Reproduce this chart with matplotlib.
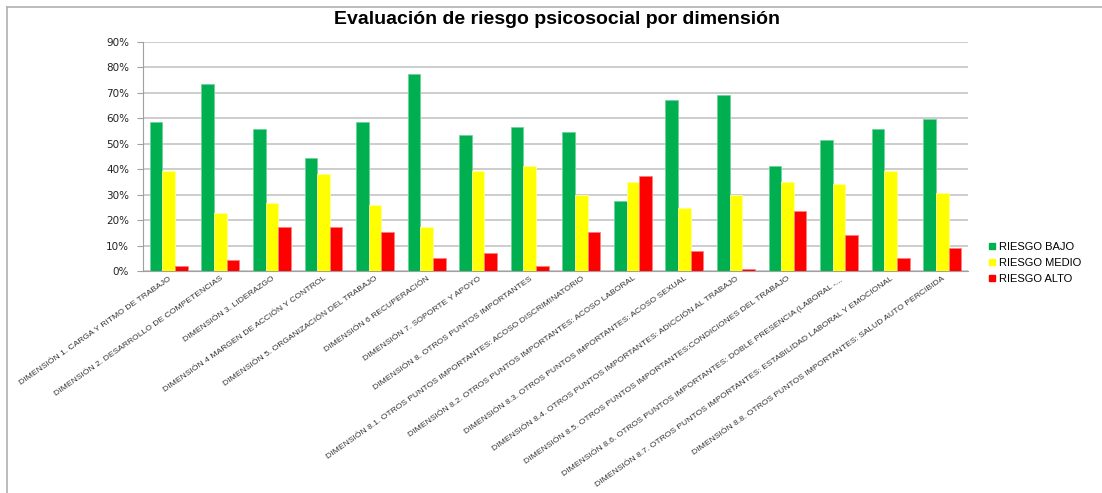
import matplotlib
matplotlib.use("Agg")
import matplotlib.pyplot as plt
import numpy as np
from matplotlib.lines import Line2D

categories = [
    "DIMENSIÓN 1. CARGA Y RITMO DE TRABAJO",
    "DIMENSIÓN 2. DESARROLLO DE COMPETENCIAS",
    "DIMENSIÓN 3. LIDERAZGO",
    "DIMENSIÓN 4 MARGEN DE ACCIÓN Y CONTROL",
    "DIMENSIÓN 5. ORGANIZACIÓN DEL TRABAJO",
    "DIMENSIÓN 6 RECUPERACIÓN",
    "DIMENSIÓN 7. SOPORTE Y APOYO",
    "DIMENSIÓN 8. OTROS PUNTOS IMPORTANTES",
    "DIMENSIÓN 8.1. OTROS PUNTOS IMPORTANTES: ACOSO DISCRIMINATORIO",
    "DIMENSIÓN 8.2. OTROS PUNTOS IMPORTANTES: ACOSO LABORAL",
    "DIMENSIÓN 8.3. OTROS PUNTOS IMPORTANTES: ACOSO SEXUAL",
    "DIMENSIÓN 8.4. OTROS PUNTOS IMPORTANTES: ADICCIÓN AL TRABAJO",
    "DIMENSIÓN 8.5. OTROS PUNTOS IMPORTANTES:CONDICIONES DEL TRABAJO",
    "DIMENSIÓN 8.6. OTROS PUNTOS IMPORTANTES: DOBLE PRESENCIA (LABORAL -...",
    "DIMENSIÓN 8.7. OTROS PUNTOS IMPORTANTES: ESTABILIDAD LABORAL Y EMOCIONAL",
    "DIMENSIÓN 8.8. OTROS PUNTOS IMPORTANTES: SALUD AUTO PERCIBIDA",
]
riesgo_bajo = [58.7, 73.6, 55.8, 44.4, 58.7, 77.5, 53.6, 56.6, 54.5, 27.7, 67.1, 69.3, 41.4, 51.5, 55.8, 59.8]
riesgo_medio = [39.2, 22.7, 26.7, 38.1, 25.8, 17.3, 39.2, 41.4, 29.8, 35.0, 24.7, 29.8, 35.0, 34.2, 39.2, 30.7]
riesgo_alto = [2.0, 4.2, 17.3, 17.3, 15.4, 5.0, 7.1, 2.0, 15.4, 37.2, 8.0, 0.8, 23.7, 14.3, 5.0, 9.2]
series_names = ["RIESGO BAJO", "RIESGO MEDIO", "RIESGO ALTO"]
yticks = [0, 10, 20, 30, 40, 50, 60, 70, 80, 90]
title = "Evaluación de riesgo psicosocial por dimensión"

colors = ["#00B050", "#FFFF00", "#FF0000"]
edges = ["#6fd39a", "#ffff99", "#ff8080"]

fig = plt.figure(figsize=(11.02, 4.93), dpi=100)
W, H = 1102, 493
ax = fig.add_axes([143 / W, 1 - 271 / H, (968 - 143) / W, (271 - 42) / H])

x = np.arange(len(categories))
bw = 0.245
for i, (vals, c, ec) in enumerate(zip([riesgo_bajo, riesgo_medio, riesgo_alto], colors, edges)):
    ax.bar(x + (i - 1) * bw, vals, width=bw, color=c, edgecolor=ec, linewidth=0.6,
           label=series_names[i], zorder=3)

ax.set_xlim(-0.5, len(categories) - 0.5)
ax.set_ylim(0, 90)
ax.set_yticks(yticks)
ax.set_yticklabels([f"{v}%" for v in yticks], fontsize=7.5, family="DejaVu Sans", color="#222222")
ax.yaxis.grid(True, color="#c0c0c0", linewidth=1.1, zorder=0)
ax.set_axisbelow(True)
for s in ["top", "right"]:
    ax.spines[s].set_visible(False)
ax.spines["left"].set_color("#a0a0a0")
ax.spines["bottom"].set_color("#a0a0a0")
ax.tick_params(axis="y", length=4, color="#a0a0a0", pad=6)
ax.tick_params(axis="x", length=0, pad=3)
ax.set_xticks(x)
ax.set_xticklabels(categories, rotation=35, ha="right", rotation_mode="anchor",
                   fontsize=6.1, family="Liberation Sans", color="#333333")

fig.text(557 / W, 1 - 20 / H, title, ha="center", va="center", fontsize=14,
         fontweight="bold", family="Liberation Sans")

handles = [Line2D([0], [0], marker="s", linestyle="none", markersize=5,
                  markerfacecolor=c, markeredgecolor=c) for c in colors]
fig.legend(handles, series_names, loc="center left", bbox_to_anchor=(982 / W, 1 - 263 / H),
           frameon=False, handletextpad=0.1, labelspacing=0.55,
           handlelength=1.0, borderaxespad=0, prop={"family": "Liberation Sans", "size": 8})

# outer frame lines (top and left)
fig.add_artist(Line2D([7 / W, 1.0], [1 - 7 / H, 1 - 7 / H], transform=fig.transFigure,
                      color="#b0b0b0", linewidth=1.2))
fig.add_artist(Line2D([7 / W, 7 / W], [0, 1 - 7 / H], transform=fig.transFigure,
                      color="#b0b0b0", linewidth=1.2))

fig.savefig("out.png", dpi=100)
